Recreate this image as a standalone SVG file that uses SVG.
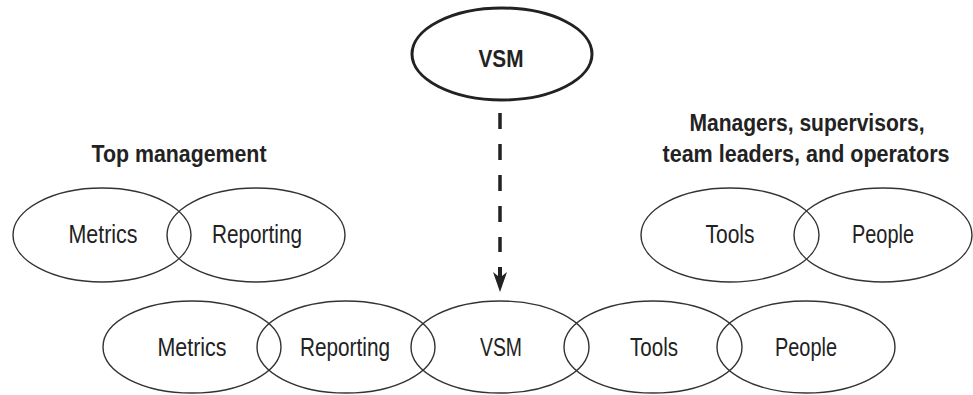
<svg xmlns="http://www.w3.org/2000/svg" width="973" height="395" viewBox="0 0 973 395">
<style>
.e{fill:none;stroke:#333;stroke-width:1.4}
.eb{fill:none;stroke:#222;stroke-width:3}
.t{font-family:"Liberation Sans",Arial,sans-serif;font-size:25px;fill:#222;text-anchor:middle}
.h{font-family:"Liberation Sans",Arial,sans-serif;font-size:23px;font-weight:bold;fill:#222;text-anchor:middle}
</style>
<rect width="973" height="395" fill="#fff"/>
<g id="vsm-top">
<ellipse class="eb" cx="502" cy="54" rx="90" ry="46"/>
<text class="h" x="501" y="67" font-size="25" textLength="45" lengthAdjust="spacingAndGlyphs">VSM</text>
</g>
<g id="top-management-label">
<text class="h" x="179" y="162" textLength="175" lengthAdjust="spacingAndGlyphs">Top management</text>
</g>
<g id="managers-label">
<text class="h" x="807" y="131" textLength="235" lengthAdjust="spacingAndGlyphs">Managers, supervisors,</text>
<text class="h" x="806" y="162" textLength="287" lengthAdjust="spacingAndGlyphs">team leaders, and operators</text>
</g>
<g id="tm-metrics">
<ellipse class="e" cx="102" cy="235" rx="89" ry="47"/>
<text class="t" x="103" y="243" textLength="69" lengthAdjust="spacingAndGlyphs">Metrics</text>
</g>
<g id="tm-reporting">
<ellipse class="e" cx="256" cy="235" rx="89" ry="47"/>
<text class="t" x="257" y="243" textLength="90" lengthAdjust="spacingAndGlyphs">Reporting</text>
</g>
<g id="mg-tools">
<ellipse class="e" cx="730" cy="235" rx="89" ry="47"/>
<text class="t" x="730" y="243" textLength="49" lengthAdjust="spacingAndGlyphs">Tools</text>
</g>
<g id="mg-people">
<ellipse class="e" cx="883" cy="235" rx="89" ry="47"/>
<text class="t" x="883" y="243" textLength="62" lengthAdjust="spacingAndGlyphs">People</text>
</g>
<g id="b-metrics">
<ellipse class="e" cx="192" cy="347" rx="89" ry="46"/>
<text class="t" x="192" y="356" textLength="69" lengthAdjust="spacingAndGlyphs">Metrics</text>
</g>
<g id="b-reporting">
<ellipse class="e" cx="346" cy="347" rx="89" ry="46"/>
<text class="t" x="345" y="356" textLength="90" lengthAdjust="spacingAndGlyphs">Reporting</text>
</g>
<g id="b-vsm">
<ellipse class="e" cx="500" cy="347" rx="89" ry="46"/>
<text class="t" x="501" y="356" textLength="42" lengthAdjust="spacingAndGlyphs">VSM</text>
</g>
<g id="b-tools">
<ellipse class="e" cx="653" cy="347" rx="89" ry="46"/>
<text class="t" x="654" y="356" textLength="48" lengthAdjust="spacingAndGlyphs">Tools</text>
</g>
<g id="b-people">
<ellipse class="e" cx="806" cy="347" rx="89" ry="46"/>
<text class="t" x="806" y="356" textLength="62" lengthAdjust="spacingAndGlyphs">People</text>
</g>
<g id="connectors">
<line x1="500" y1="113" x2="500" y2="252" stroke="#222" stroke-width="3.5" stroke-dasharray="16 15"/>
<path d="M500,292 L493,272 L498,276 L498,267 L502,267 L502,276 L507,272 Z" fill="#222"/>
</g>
</svg>
